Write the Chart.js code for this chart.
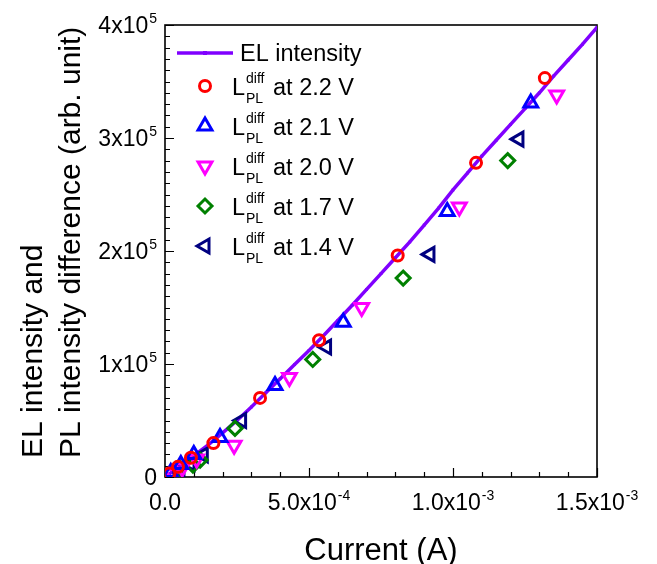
<!DOCTYPE html>
<html>
<head>
<meta charset="utf-8">
<title>EL intensity and PL intensity difference vs current</title>
<script src="https://cdn.jsdelivr.net/npm/chart.js@4.4.0/dist/chart.umd.min.js"></script>
<style>
  html, body { margin: 0; padding: 0; background: #ffffff; }
  #wrap { width: 657px; height: 564px; }
</style>
</head>
<body>
<div id="wrap"><canvas id="chart" width="657" height="564"></canvas></div>
<script>
// EL intensity curve (current in A, intensity in arb. unit)
const elCurrent = [0, 0.25e-4, 0.5e-4, 1.0e-4, 1.5e-4, 2.0e-4, 2.5e-4, 3.0e-4, 3.5e-4, 4.0e-4,
    4.5e-4, 5.0e-4, 5.5e-4, 6.0e-4, 6.5e-4, 7.0e-4, 7.5e-4, 8.0e-4, 8.5e-4, 9.0e-4, 9.5e-4,
    1.0e-3, 1.05e-3, 1.1e-3, 1.15e-3, 1.2e-3, 1.25e-3, 1.3e-3, 1.35e-3, 1.4e-3, 1.45e-3, 1.5e-3];
const elIntensity = [0, 4.5e3, 9.5e3, 1.9e4, 2.85e4, 3.9e4, 5.0e4, 6.2e4, 7.45e4, 8.7e4,
    9.95e4, 1.12e5, 1.25e5, 1.385e5, 1.52e5, 1.66e5, 1.80e5, 1.94e5, 2.08e5, 2.23e5, 2.38e5,
    2.54e5, 2.69e5, 2.84e5, 2.98e5, 3.12e5, 3.26e5, 3.40e5, 3.55e5, 3.69e5, 3.83e5, 3.98e5];

// PL intensity difference at each bias
const current22 = [0.15e-4, 0.45e-4, 0.9e-4, 1.68e-4, 3.30e-4, 5.35e-4, 8.08e-4, 1.08e-3, 1.319e-3];
const diff22 = [3.0e3, 9.0e3, 1.7e4, 3.0e4, 7.0e4, 1.21e5, 1.96e5, 2.78e5, 3.53e5];
const current21 = [0.2e-4, 0.55e-4, 1.0e-4, 1.91e-4, 3.82e-4, 6.19e-4, 9.80e-4, 1.27e-3];
const diff21 = [4.0e3, 1.1e4, 2.0e4, 3.5e4, 8.1e4, 1.37e5, 2.35e5, 3.31e5];
const current20 = [0.25e-4, 0.6e-4, 1.1e-4, 2.40e-4, 4.32e-4, 6.83e-4, 1.022e-3, 1.36e-3];
const diff20 = [3.0e3, 8.0e3, 1.6e4, 2.8e4, 8.8e4, 1.50e5, 2.39e5, 3.38e5];
const current17 = [0.2e-4, 0.5e-4, 0.97e-4, 1.22e-4, 2.43e-4, 5.13e-4, 8.27e-4, 1.19e-3];
const diff17 = [3.0e3, 8.0e3, 1.06e4, 1.5e4, 4.3e4, 1.04e5, 1.76e5, 2.80e5];
const current14 = [0.17e-4, 0.52e-4, 0.87e-4, 1.33e-4, 2.66e-4, 5.61e-4, 9.20e-4, 1.229e-3];
const diff14 = [3.5e3, 7.7e3, 1.2e4, 1.95e4, 5.0e4, 1.15e5, 1.97e5, 2.99e5];

// Axis ticks
const xTicks = [0, 5e-4, 1e-3, 1.5e-3];
const xTickBase = ['0.0', '5.0x10', '1.0x10', '1.5x10'];
const xTickExp = ['', '-4', '-3', '-3'];
const yTicks = [0, 1e5, 2e5, 3e5, 4e5];
const yTickBase = ['0', '1x10', '2x10', '3x10', '4x10'];
const yTickExp = ['', '5', '5', '5', '5'];

const legendVolts = ['2.2 V', '2.1 V', '2.0 V', '1.7 V', '1.4 V'];

const FONT = "'Liberation Sans', Arial, sans-serif";

function toPoints(xs, ys) {
    return xs.map((x, i) => ({ x: x, y: ys[i] }));
}

function markerSet(label, xs, ys, color, style, radius, rotation) {
    return {
        label: label,
        data: toPoints(xs, ys),
        showLine: false,
        pointStyle: style,
        pointRadius: radius,
        pointRotation: rotation,
        pointBorderColor: color,
        pointBackgroundColor: 'rgba(0,0,0,0)',
        pointBorderWidth: 3,
        borderColor: color,
        backgroundColor: 'rgba(0,0,0,0)'
    };
}

// Draw text with a superscript part
function drawSup(ctx, base, sup, x, y, align) {
    ctx.font = '23px ' + FONT;
    const wb = ctx.measureText(base).width;
    ctx.font = '14px ' + FONT;
    const ws = sup ? ctx.measureText(sup).width + 1 : 0;
    const total = wb + ws;
    let left = x;
    if (align === 'right') left = x - total;
    if (align === 'center') left = x - total / 2;
    ctx.textAlign = 'left';
    ctx.textBaseline = 'alphabetic';
    ctx.font = '23px ' + FONT;
    ctx.fillText(base, left, y);
    if (sup) {
        ctx.font = '14px ' + FONT;
        ctx.fillText(sup, left + wb + 1, y - 10);
    }
}

// Frame, inward ticks, tick labels and axis titles
const axesPlugin = {
    id: 'axesPlugin',
    beforeDatasetsDraw(chart) {
        const ctx = chart.ctx;
        const a = chart.chartArea;
        const xs = chart.scales.x;
        const ys = chart.scales.y;
        ctx.save();
        ctx.strokeStyle = '#000';
        ctx.lineWidth = 1.6;
        ctx.strokeRect(a.left, a.top, a.right - a.left, a.bottom - a.top);
        ctx.lineWidth = 1.2;
        ctx.beginPath();
        for (let v = 0; v <= 15; v++) {
            const px = Math.round(xs.getPixelForValue(v * 1e-4)) + 0.5;
            const len = v % 5 === 0 ? 9 : 5;
            ctx.moveTo(px, a.bottom);
            ctx.lineTo(px, a.bottom - len);
        }
        for (let v = 0; v <= 40; v++) {
            const py = Math.round(ys.getPixelForValue(v * 1e4)) + 0.5;
            const len = v % 10 === 0 ? 9 : 5;
            ctx.moveTo(a.left, py);
            ctx.lineTo(a.left + len, py);
        }
        ctx.stroke();
        ctx.restore();
    },
    afterDraw(chart) {
        const ctx = chart.ctx;
        const a = chart.chartArea;
        const xs = chart.scales.x;
        const ys = chart.scales.y;
        ctx.save();
        ctx.fillStyle = '#000';
        xTicks.forEach((v, i) => {
            drawSup(ctx, xTickBase[i], xTickExp[i], xs.getPixelForValue(v), a.bottom + 33, 'center');
        });
        yTicks.forEach((v, i) => {
            drawSup(ctx, yTickBase[i], yTickExp[i], a.left - 8, ys.getPixelForValue(v) + 8, 'right');
        });

        ctx.font = '31px ' + FONT;
        ctx.textAlign = 'center';
        ctx.textBaseline = 'alphabetic';
        ctx.fillText('Current (A)', (a.left + a.right) / 2, 560);

        ctx.font = '30px ' + FONT;
        ctx.translate(0, 458);
        ctx.rotate(-Math.PI / 2);
        ctx.textAlign = 'left';
        ctx.fillText('EL intensity and', 0, 42);
        ctx.fillText('PL intensity difference (arb. unit)', 0, 80);
        ctx.restore();

        drawLegend(chart);
    }
};

function drawMarker(ctx, ds, x, y) {
    const opts = {
        pointStyle: ds.pointStyle,
        radius: ds.pointRadius,
        rotation: ds.pointRotation || 0,
        borderWidth: ds.pointBorderWidth
    };
    ctx.save();
    ctx.strokeStyle = ds.pointBorderColor;
    ctx.fillStyle = ds.pointBackgroundColor;
    ctx.lineWidth = ds.pointBorderWidth;
    Chart.helpers.drawPoint(ctx, opts, x, y);
    ctx.restore();
}

// Legend with sub/superscripted labels
function drawLegend(chart) {
    const ctx = chart.ctx;
    const sets = chart.data.datasets;
    ctx.save();
    ctx.strokeStyle = sets[0].borderColor;
    ctx.lineWidth = 3.5;
    ctx.beginPath();
    ctx.moveTo(177, 53);
    ctx.lineTo(233, 53);
    ctx.stroke();
    ctx.fillStyle = sets[0].borderColor;
    ctx.fillRect(203, 51, 4, 4);
    ctx.fillStyle = '#000';
    ctx.font = '23.5px ' + FONT;
    ctx.textAlign = 'left';
    ctx.textBaseline = 'alphabetic';
    ctx.fillText('EL intensity', 240, 61);

    legendVolts.forEach((v, i) => {
        const y = 86 + i * 40;
        drawMarker(ctx, sets[i + 1], 205, y);
        ctx.fillStyle = '#000';
        ctx.font = '23.5px ' + FONT;
        ctx.fillText('L', 232, y + 9);
        ctx.font = '14px ' + FONT;
        ctx.fillText('diff', 246, y - 3);
        ctx.fillText('PL', 246, y + 17);
        ctx.font = '23.5px ' + FONT;
        ctx.fillText('at ' + v, 273, y + 9);
    });
    ctx.restore();
}

document.addEventListener('DOMContentLoaded', function() {
    const ctx = document.getElementById('chart').getContext('2d');
    new Chart(ctx, {
        type: 'scatter',
        data: {
            datasets: [
                {
                    label: 'EL intensity',
                    data: toPoints(elCurrent, elIntensity),
                    showLine: true,
                    borderColor: '#8000ff',
                    backgroundColor: '#8000ff',
                    borderWidth: 3.5,
                    pointStyle: 'rect',
                    pointRadius: 2,
                    pointBorderWidth: 0,
                    pointBackgroundColor: '#8000ff',
                    order: 10
                },
                markerSet('2.2 V', current22, diff22, '#ff0000', 'circle', 5.5, 0),
                markerSet('2.1 V', current21, diff21, '#0000ff', 'triangle', 8, 0),
                markerSet('2.0 V', current20, diff20, '#ff00ff', 'triangle', 8, 180),
                markerSet('1.7 V', current17, diff17, '#008000', 'rectRot', 7, 0),
                markerSet('1.4 V', current14, diff14, '#000080', 'triangle', 8, -90)
            ]
        },
        options: {
            responsive: false,
            animation: false,
            layout: { padding: { left: 165, top: 25, right: 60, bottom: 87 } },
            plugins: {
                legend: { display: false },
                tooltip: { enabled: false }
            },
            scales: {
                x: {
                    type: 'linear',
                    min: 0,
                    max: 1.5e-3,
                    grid: { display: false, drawTicks: false },
                    border: { display: false },
                    ticks: { display: false }
                },
                y: {
                    type: 'linear',
                    min: 0,
                    max: 4e5,
                    grid: { display: false, drawTicks: false },
                    border: { display: false },
                    ticks: { display: false }
                }
            }
        },
        plugins: [axesPlugin]
    });
});
</script>
</body>
</html>
